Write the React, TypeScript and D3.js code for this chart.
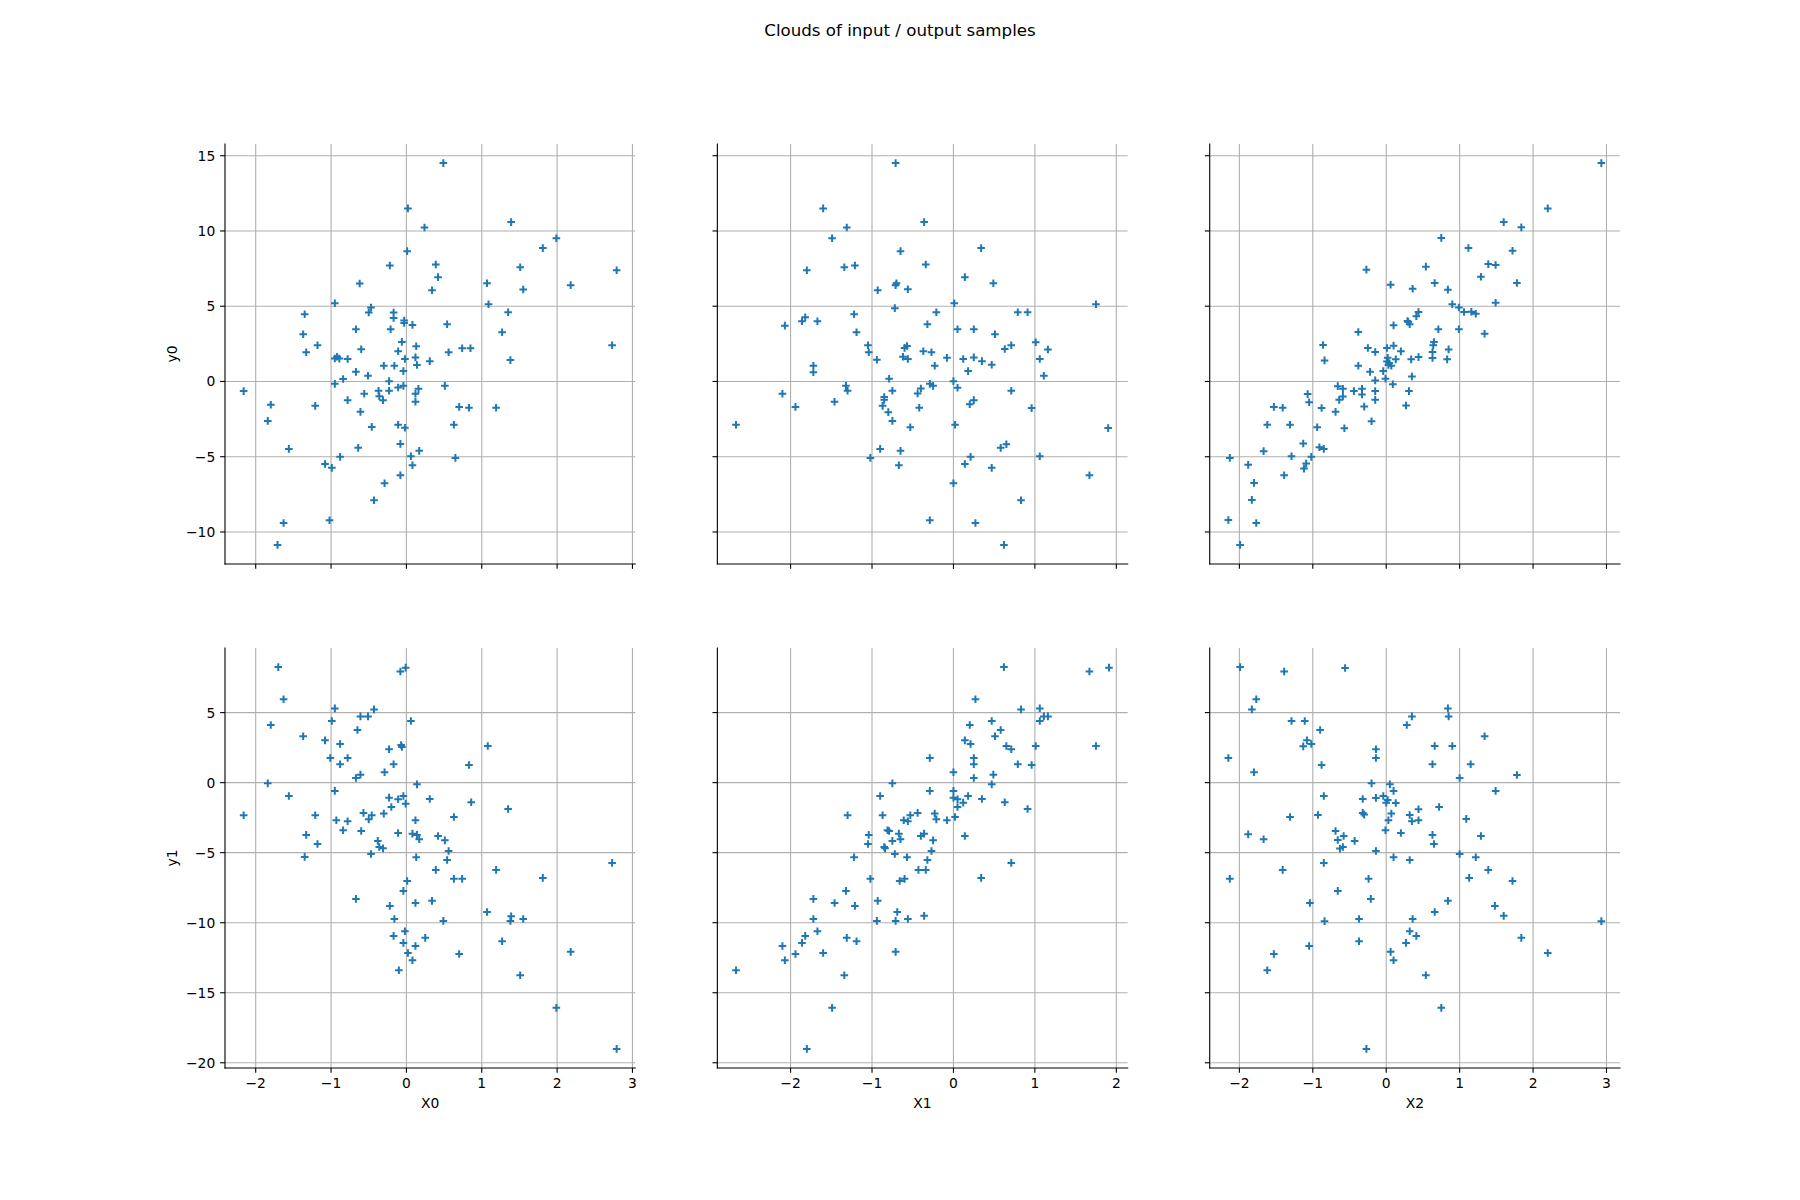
import React from 'react';
import * as d3 from 'd3';

// ---------------- data ----------------
const inputNames = ['X0', 'X1', 'X2'];
const outputNames = ['y0', 'y1'];
const title = 'Clouds of input / output samples';

const xTickValues = [
  [-2, -1, 0, 1, 2, 3],
  [-2, -1, 0, 1, 2],
  [-2, -1, 0, 1, 2, 3],
];
const yTickValues = [
  [-10, -5, 0, 5, 10, 15],
  [-20, -15, -10, -5, 0, 5],
];

type Pt = [number, number];

const x0y0: Pt[] = [
  [0.49, 14.51], [0.02, 11.5], [0.24, 10.23], [1.39, 10.59], [1.99, 9.52], [1.81, 8.86], [0.01, 8.66], [-0.22, 7.71],
  [0.39, 7.77], [1.51, 7.59], [2.79, 7.39], [0.42, 6.93], [-0.62, 6.51], [1.07, 6.53], [2.18, 6.4], [0.34, 6.06],
  [1.55, 6.11], [-0.95, 5.2], [1.09, 5.13], [-0.47, 4.91], [-0.5, 4.58], [-1.35, 4.47], [-0.17, 4.58], [-0.17, 4.22],
  [1.35, 4.6], [-0.03, 4.05], [-0.03, 3.89], [0.08, 3.76], [0.54, 3.8], [-1.37, 3.14], [-0.67, 3.47], [-0.21, 3.47],
  [1.27, 3.27], [-1.18, 2.41], [-0.06, 2.63], [0.13, 2.34], [2.73, 2.41], [-1.33, 1.94], [-0.6, 2.14], [-0.11, 2.01],
  [0.56, 1.94], [0.74, 2.21], [0.85, 2.21], [-0.95, 1.53], [-0.92, 1.64], [-0.89, 1.52], [-0.78, 1.49], [-0.02, 1.49],
  [0.12, 1.6], [0.31, 1.35], [1.38, 1.42], [-0.3, 1.04], [-0.16, 1.04], [0.14, 1.09], [-0.67, 0.64], [-0.51, 0.38],
  [-0.04, 0.69], [-0.84, 0.16], [-0.23, 0.02], [-0.95, -0.16], [-2.16, -0.64], [-0.56, -0.82], [-0.37, -0.62], [-0.36, -0.98],
  [-0.31, -1.24], [-0.23, -0.62], [-0.11, -0.4], [-0.04, -0.29], [0.16, -0.49], [0.12, -0.82], [0.12, -1.35], [0.51, -0.29],
  [-0.78, -1.24], [-1.8, -1.55], [-1.21, -1.62], [0.7, -1.69], [0.83, -1.75], [1.19, -1.75], [-1.84, -2.62], [-0.61, -2.02],
  [-0.46, -3.02], [-0.11, -2.88], [-0.02, -3.08], [0.63, -2.88], [-1.56, -4.48], [-0.64, -4.41], [-0.08, -4.15], [0.17, -4.61],
  [0.06, -4.97], [0.65, -5.08], [-1.08, -5.48], [-0.99, -5.74], [-0.88, -5.01], [0.08, -5.57], [-0.08, -6.23], [-0.29, -6.76],
  [-0.43, -7.89], [-1.63, -9.4], [-1.02, -9.22], [-1.71, -10.86],
];

const x1y0: Pt[] = [
  [-0.71, 14.51], [-1.6, 11.5], [-1.31, 10.23], [-0.36, 10.59], [-1.49, 9.52], [0.34, 8.86], [-0.65, 8.66], [-1.8, 7.39],
  [-1.34, 7.59], [-1.21, 7.71], [-0.34, 7.77], [0.14, 6.93], [0.49, 6.53], [-0.71, 6.4], [-0.7, 6.53], [-0.93, 6.06],
  [-0.56, 6.13], [0.01, 5.2], [1.75, 5.13], [-0.72, 4.87], [-1.22, 4.47], [-0.21, 4.6], [0.79, 4.6], [0.91, 4.6],
  [-2.07, 3.71], [-1.86, 4.0], [-1.82, 4.27], [-1.67, 4.0], [-0.32, 3.8], [-1.19, 3.27], [0.05, 3.47], [0.25, 3.47],
  [0.51, 3.14], [-1.05, 2.41], [-1.04, 1.94], [-0.6, 2.23], [-0.57, 2.36], [-0.37, 2.01], [-0.27, 1.94], [0.63, 2.16],
  [0.71, 2.41], [1.01, 2.61], [1.16, 2.12], [-0.94, 1.44], [-0.62, 1.64], [-0.56, 1.49], [-0.08, 1.57], [0.12, 1.49],
  [0.25, 1.6], [0.35, 1.35], [0.47, 1.11], [1.06, 1.49], [-1.72, 1.04], [-1.72, 0.62], [-0.23, 1.04], [0.18, 0.69],
  [1.11, 0.38], [-0.79, 0.18], [0.0, 0.02], [-1.32, -0.29], [-1.3, -0.62], [-2.1, -0.82], [-0.75, -0.62], [-0.29, -0.16],
  [-0.25, -0.29], [-0.44, -0.8], [-0.4, -0.47], [0.05, -0.42], [-0.85, -1.04], [-0.85, -1.22], [-0.87, -1.62], [0.71, -0.62],
  [-1.94, -1.69], [-1.46, -1.35], [-0.8, -2.04], [-0.75, -2.62], [-0.42, -1.75], [0.2, -1.51], [0.25, -1.24], [0.96, -1.77],
  [-2.67, -2.88], [-0.53, -3.04], [0.02, -2.88], [1.9, -3.1], [-0.9, -4.48], [-0.65, -4.61], [0.58, -4.41], [0.65, -4.17],
  [-1.02, -5.08], [-0.67, -5.57], [0.14, -5.48], [0.21, -5.01], [0.47, -5.74], [1.06, -4.97], [1.67, -6.23], [0.0, -6.76],
  [0.83, -7.89], [-0.29, -9.22], [0.27, -9.4], [0.62, -10.86],
];

const x2y0: Pt[] = [
  [2.93, 14.51], [2.2, 11.5], [1.6, 10.59], [1.84, 10.24], [0.75, 9.54], [1.12, 8.87], [1.72, 8.69], [1.39, 7.8],
  [1.49, 7.74], [0.54, 7.63], [-0.27, 7.43], [1.29, 6.96], [0.66, 6.54], [1.78, 6.54], [0.06, 6.43], [0.36, 6.16],
  [0.84, 6.1], [1.49, 5.23], [1.16, 4.63], [1.22, 4.5], [1.34, 3.17], [0.9, 5.13], [0.99, 4.91], [1.06, 4.62],
  [0.44, 4.62], [0.41, 4.33], [0.29, 4.02], [0.32, 3.8], [0.3, 3.95], [0.1, 3.73], [-0.38, 3.29], [0.71, 3.47],
  [0.99, 3.47], [-0.86, 2.42], [-0.25, 2.22], [-0.15, 1.96], [0.01, 2.22], [0.1, 2.38], [0.2, 2.0], [0.65, 2.62],
  [0.64, 2.4], [0.85, 2.13], [0.63, 1.96], [-0.84, 1.4], [0.02, 1.58], [0.01, 1.33], [0.04, 1.22], [0.07, 1.04],
  [0.03, 1.1], [0.13, 1.47], [0.34, 1.47], [0.44, 1.62], [0.63, 1.56], [0.83, 1.47], [-0.38, 1.04], [-0.22, 0.64],
  [-0.04, 0.69], [0.35, 0.33], [-0.15, 0.07], [-0.01, 0.18], [0.09, -0.18], [-0.66, -0.31], [-0.59, -0.49], [-0.59, -1.0],
  [-0.44, -0.64], [-0.33, -0.49], [-0.33, -0.87], [-0.15, -0.64], [-0.15, -1.22], [0.31, -0.64], [-1.07, -0.84], [-1.05, -1.38],
  [-0.64, -1.22], [-0.88, -1.76], [-0.69, -2.02], [-0.3, -1.67], [0.27, -1.6], [-0.2, -2.64], [-0.94, -3.04], [-0.57, -3.11],
  [-1.62, -2.88], [-1.31, -2.88], [-1.53, -1.69], [-1.41, -1.75], [-1.67, -4.63], [-1.13, -4.12], [-0.91, -4.37], [-0.85, -4.48],
  [-2.13, -5.08], [-1.88, -5.54], [-1.29, -4.97], [-1.02, -5.01], [-1.09, -5.45], [-1.12, -5.79], [-1.39, -6.23], [-1.8, -6.74],
  [-1.83, -7.87], [-2.15, -9.2], [-1.77, -9.4], [-1.99, -10.86],
];

const x0y1: Pt[] = [
  [-1.7, 8.25], [-0.08, 7.94], [-0.01, 8.21], [-1.63, 5.95], [-0.95, 5.3], [-0.43, 5.23], [-0.61, 4.73], [-0.51, 4.73],
  [-0.99, 4.4], [0.06, 4.4], [-1.8, 4.12], [-0.65, 3.76], [-1.37, 3.31], [-1.08, 3.02], [-0.88, 2.76], [-0.23, 2.38],
  [-0.07, 2.69], [-0.06, 2.55], [1.08, 2.62], [-1.01, 1.76], [-0.78, 1.76], [-0.88, 1.31], [-0.17, 1.31], [0.83, 1.26],
  [-0.29, 0.74], [-0.67, 0.33], [-0.61, 0.57], [-1.84, -0.05], [0.14, -0.12], [-0.95, -0.59], [-1.56, -0.95], [-0.23, -1.07],
  [-0.11, -1.19], [-0.04, -0.95], [-0.01, -1.5], [0.31, -1.17], [0.86, -1.4], [1.35, -1.88], [-0.2, -1.74], [-2.16, -2.33],
  [-1.21, -2.33], [-0.57, -2.16], [-0.46, -2.33], [-0.5, -2.62], [-0.3, -2.21], [-0.93, -2.69], [-0.78, -2.76], [0.12, -2.69],
  [0.63, -2.45], [-0.84, -3.4], [-0.6, -3.45], [-0.11, -3.59], [0.08, -3.64], [0.14, -3.73], [0.17, -4.04], [0.42, -3.81],
  [0.51, -4.12], [-1.33, -3.73], [-1.18, -4.38], [-0.38, -4.16], [-0.36, -4.59], [-0.31, -4.69], [0.56, -4.88], [-1.35, -5.3],
  [-0.47, -5.09], [0.13, -5.33], [0.54, -5.52], [0.39, -6.23], [1.19, -6.23], [0.63, -6.87], [0.74, -6.87], [1.81, -6.8],
  [2.73, -5.73], [0.01, -7.02], [-0.04, -7.73], [-0.67, -8.3], [-0.22, -8.8], [0.12, -8.59], [0.34, -8.44], [1.07, -9.23],
  [-0.16, -9.73], [0.49, -9.87], [1.38, -9.87], [1.39, -9.54], [1.55, -9.73], [-0.02, -10.61], [-0.17, -10.94], [-0.04, -11.44],
  [0.12, -11.66], [0.25, -11.08], [1.27, -11.32], [0.02, -12.16], [0.08, -12.68], [0.7, -12.23], [2.18, -12.08], [-0.1, -13.39],
  [1.51, -13.75], [1.99, -16.08], [2.79, -19.01],
];

const x1y1: Pt[] = [
  [0.62, 8.25], [1.67, 7.94], [1.91, 8.21], [0.27, 5.95], [0.83, 5.23], [1.06, 5.3], [1.06, 4.4], [1.11, 4.73],
  [1.16, 4.73], [0.2, 4.12], [0.47, 4.4], [0.58, 3.76], [0.51, 3.31], [0.14, 3.02], [0.21, 2.76], [0.65, 2.62],
  [0.71, 2.38], [1.01, 2.62], [1.75, 2.62], [-0.29, 1.76], [0.25, 1.76], [0.25, 1.31], [0.79, 1.31], [0.96, 1.26],
  [0.0, 0.74], [0.25, 0.33], [0.49, 0.57], [0.47, -0.12], [-0.75, -0.05], [-0.29, -0.59], [-0.9, -0.95], [0.0, -0.59],
  [0.0, -1.07], [0.05, -1.19], [0.05, -1.74], [0.12, -1.43], [0.18, -0.95], [0.35, -1.17], [0.63, -1.4], [0.91, -1.88],
  [-1.3, -2.33], [-0.87, -2.33], [-0.44, -2.16], [-0.23, -2.21], [-0.21, -2.62], [-0.61, -2.69], [-0.56, -2.76], [-0.53, -2.33],
  [-0.08, -2.69], [0.02, -2.45], [-0.81, -3.4], [-0.79, -3.45], [-0.67, -3.64], [-0.65, -4.04], [-0.4, -3.81], [-0.36, -3.64],
  [-1.04, -3.73], [-1.05, -4.38], [-0.75, -4.16], [-0.85, -4.59], [-0.84, -4.69], [-0.25, -4.12], [0.14, -3.81], [-0.27, -4.88],
  [-0.72, -5.09], [-0.57, -5.33], [-1.22, -5.33], [-0.32, -5.52], [-0.43, -6.23], [-0.34, -6.23], [0.71, -5.73], [-1.02, -6.87],
  [-0.66, -7.02], [-0.6, -6.87], [0.34, -6.8], [-1.32, -7.73], [-1.72, -8.3], [-1.46, -8.59], [-1.21, -8.8], [-0.93, -8.44],
  [-0.69, -9.23], [-1.72, -9.73], [-0.94, -9.87], [-0.71, -9.87], [-0.56, -9.73], [-0.36, -9.51], [-1.67, -10.61], [-1.82, -10.94],
  [-1.86, -11.44], [-2.1, -11.66], [-1.31, -11.08], [-1.19, -11.32], [-1.94, -12.23], [-1.6, -12.16], [-0.71, -12.08], [-2.07, -12.68],
  [-2.67, -13.39], [-1.34, -13.75], [-1.49, -16.08], [-1.8, -19.01],
];

const x2y1: Pt[] = [
  [-1.99, 8.25], [-1.39, 7.94], [-0.56, 8.18], [-1.77, 5.95], [-1.83, 5.23], [0.84, 5.3], [0.35, 4.73], [0.85, 4.73],
  [-1.29, 4.4], [-1.11, 4.4], [0.28, 4.12], [-0.9, 3.76], [1.34, 3.31], [-1.08, 3.02], [-1.13, 2.59], [-1.02, 2.76],
  [-0.14, 2.38], [-0.14, 1.76], [0.66, 2.62], [0.9, 2.62], [-2.15, 1.76], [-1.8, 0.74], [-0.88, 1.26], [0.63, 1.31],
  [1.15, 1.31], [1.78, 0.55], [1.0, 0.33], [-0.2, -0.05], [0.05, -0.12], [0.1, -0.59], [1.49, -0.59], [-0.85, -0.95],
  [-0.32, -1.17], [-0.14, -1.09], [-0.04, -0.95], [0.02, -1.24], [0.0, -1.43], [0.13, -1.45], [0.72, -1.74], [0.44, -1.9],
  [-1.31, -2.45], [-0.93, -2.31], [-0.32, -2.16], [-0.3, -2.28], [0.07, -2.21], [0.32, -2.31], [0.35, -2.76], [0.44, -2.69],
  [0.03, -2.69], [1.09, -2.59], [-1.88, -3.69], [-1.67, -4.04], [-0.69, -3.45], [-0.66, -4.09], [-0.58, -3.81], [-0.63, -4.71],
  [-0.59, -4.59], [-0.43, -4.16], [-0.01, -3.4], [0.2, -3.59], [0.63, -3.73], [0.65, -4.38], [1.29, -3.81], [-0.14, -4.88],
  [0.1, -5.33], [0.32, -5.52], [1.0, -5.09], [1.22, -5.33], [-0.85, -5.73], [-1.41, -6.23], [1.39, -6.23], [-2.13, -6.87],
  [-0.24, -6.87], [1.13, -6.8], [1.72, -7.02], [-0.66, -7.73], [-0.21, -8.3], [-1.04, -8.59], [0.84, -8.44], [1.48, -8.8],
  [0.66, -9.23], [1.6, -9.51], [-0.84, -9.89], [-0.37, -9.73], [0.36, -9.73], [2.93, -9.89], [0.32, -10.61], [0.41, -10.94],
  [-0.37, -11.32], [0.27, -11.44], [1.84, -11.08], [-1.05, -11.66], [-1.53, -12.23], [0.06, -12.08], [0.1, -12.68], [2.2, -12.16],
  [-1.62, -13.39], [0.54, -13.75], [0.75, -16.08], [-0.27, -19.01],
];

const clouds: Pt[][][] = [
  [x0y0, x1y0, x2y0],
  [x0y1, x1y1, x2y1],
];

// ---------------- layout (matplotlib-like defaults) ----------------
const W = 1800;
const H = 1200;
const FIG = { left: 0.125, right: 0.9, bottom: 0.11, top: 0.88, wspace: 0.2, hspace: 0.2 };
const NC = 3;
const NR = 2;
const AX_W = (W * (FIG.right - FIG.left)) / (NC + (NC - 1) * FIG.wspace);
const AX_H = (H * (FIG.top - FIG.bottom)) / (NR + (NR - 1) * FIG.hspace);
const PT = 100 / 72;
const TICK_LEN = 3.5 * PT;
const TICK_PAD = 3.5 * PT;
const LINE_W = 0.8 * PT;
const FONT = 10 * PT;
const FAMILY = '"DejaVu Sans", Verdana, sans-serif';
const BLUE = '#1f77b4';
const GRID = '#b0b0b0';
const MARK_R = 3.8;

const fmt = (v: number) => (v < 0 ? '\u2212' + Math.abs(v) : String(v));

function padded(vals: number[]): [number, number] {
  const [a, b] = d3.extent(vals) as [number, number];
  const m = (b - a) * 0.05;
  return [a - m, b + m];
}

export default function App() {
  const colLeft = (c: number) => W * FIG.left + c * AX_W * (1 + FIG.wspace);
  const rowTop = (r: number) => H * (1 - FIG.top) + r * AX_H * (1 + FIG.hspace);

  const xScales = d3.range(NC).map((c) =>
    d3
      .scaleLinear()
      .domain(padded(clouds.flatMap((row) => row[c].map((p) => p[0]))))
      .range([colLeft(c), colLeft(c) + AX_W])
  );
  const yScales = d3.range(NR).map((r) =>
    d3
      .scaleLinear()
      .domain(padded(clouds[r].flatMap((pts) => pts.map((p) => p[1]))))
      .range([rowTop(r) + AX_H, rowTop(r)])
  );

  const panels: React.ReactNode[] = [];
  for (let r = 0; r < NR; r++) {
    for (let c = 0; c < NC; c++) {
      const xs = xScales[c];
      const ys = yScales[r];
      const [x0, x1] = xs.range();
      const [yb, yt] = ys.range();
      const xt = xTickValues[c].filter((v) => v >= xs.domain()[0] && v <= xs.domain()[1]);
      const yt2 = yTickValues[r].filter((v) => v >= ys.domain()[0] && v <= ys.domain()[1]);
      const pts = clouds[r][c];
      const markPath = pts
        .map((p) => {
          const px = xs(p[0]);
          const py = ys(p[1]);
          return `M${px - MARK_R},${py}H${px + MARK_R}M${px},${py - MARK_R}V${py + MARK_R}`;
        })
        .join('');
      panels.push(
        <g key={`p${r}${c}`}>
          {/* grid */}
          {xt.map((v) => (
            <line key={`gx${v}`} x1={xs(v)} x2={xs(v)} y1={yt} y2={yb} stroke={GRID} strokeWidth={LINE_W} />
          ))}
          {yt2.map((v) => (
            <line key={`gy${v}`} x1={x0} x2={x1} y1={ys(v)} y2={ys(v)} stroke={GRID} strokeWidth={LINE_W} />
          ))}
          {/* markers */}
          <path d={markPath} stroke={BLUE} strokeWidth={2} fill="none" />
          {/* spines */}
          <line x1={x0} x2={x0} y1={yt} y2={yb} stroke="#000" strokeWidth={LINE_W} strokeLinecap="square" />
          <line x1={x0} x2={x1} y1={yb} y2={yb} stroke="#000" strokeWidth={LINE_W} strokeLinecap="square" />
          {/* ticks */}
          {xt.map((v) => (
            <line key={`tx${v}`} x1={xs(v)} x2={xs(v)} y1={yb} y2={yb + TICK_LEN} stroke="#000" strokeWidth={LINE_W} />
          ))}
          {yt2.map((v) => (
            <line key={`ty${v}`} x1={x0} x2={x0 - TICK_LEN} y1={ys(v)} y2={ys(v)} stroke="#000" strokeWidth={LINE_W} />
          ))}
          {/* tick labels on outer panels */}
          {r === NR - 1 &&
            xt.map((v) => (
              <text
                key={`lx${v}`}
                x={xs(v)}
                y={yb + TICK_LEN + TICK_PAD + 10.6}
                textAnchor="middle"
                fontSize={FONT}
                fontFamily={FAMILY}
                fill="#000"
              >
                {fmt(v)}
              </text>
            ))}
          {c === 0 &&
            yt2.map((v) => (
              <text
                key={`ly${v}`}
                x={x0 - TICK_LEN - TICK_PAD}
                y={ys(v) + 5}
                textAnchor="end"
                fontSize={FONT}
                fontFamily={FAMILY}
                fill="#000"
              >
                {fmt(v)}
              </text>
            ))}
          {r === NR - 1 && (
            <text
              x={(x0 + x1) / 2}
              y={yb + 40}
              textAnchor="middle"
              fontSize={FONT}
              fontFamily={FAMILY}
              fill="#000"
            >
              {inputNames[c]}
            </text>
          )}
          {c === 0 && (
            <text
              transform={`translate(${x0 - 48},${(yt + yb) / 2}) rotate(-90)`}
              textAnchor="middle"
              fontSize={FONT}
              fontFamily={FAMILY}
              fill="#000"
            >
              {outputNames[r]}
            </text>
          )}
        </g>
      );
    }
  }

  return (
    <svg
      width={W}
      height={H}
      viewBox={`0 0 ${W} ${H}`}
      style={{ position: 'absolute', left: 0, top: 0, background: '#fff' }}
    >
      <rect x={0} y={0} width={W} height={H} fill="#fff" />
      <text x={W / 2} y={36} textAnchor="middle" fontSize={12 * PT} fontFamily={FAMILY} fill="#000">
        {title}
      </text>
      {panels}
    </svg>
  );
}
